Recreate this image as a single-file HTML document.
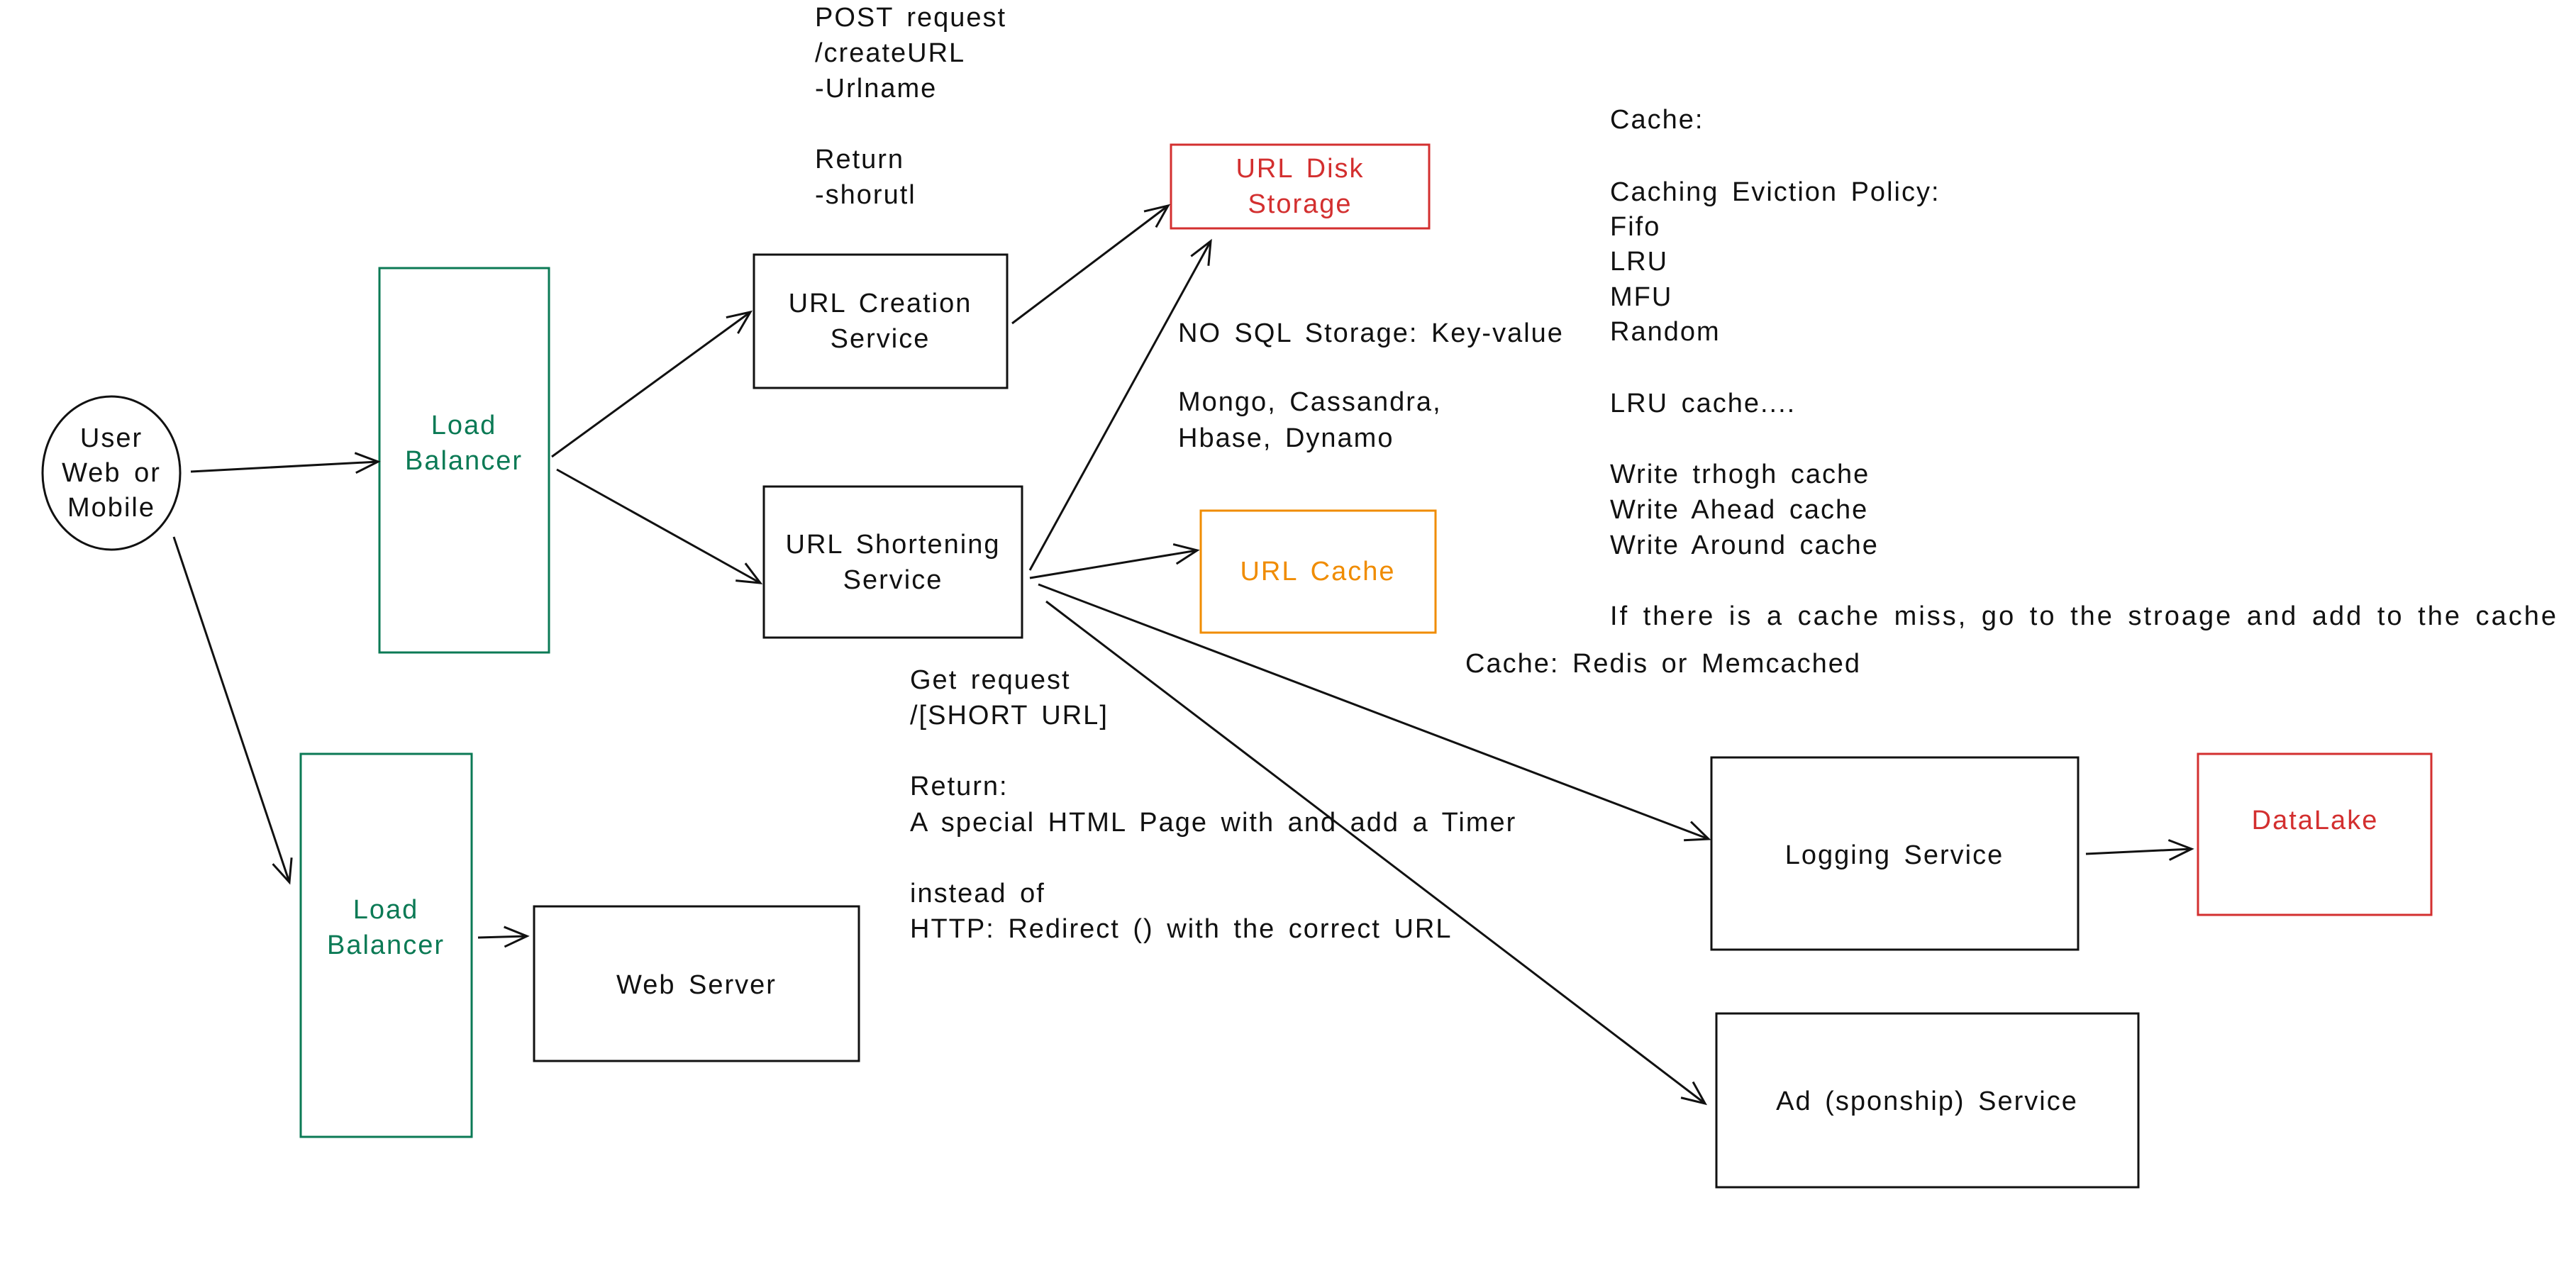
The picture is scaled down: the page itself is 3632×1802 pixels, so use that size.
<!DOCTYPE html>
<html><head><meta charset="utf-8"><style>
html,body{margin:0;padding:0;background:#fff;width:3632px;height:1802px;overflow:hidden}
svg{display:block}
text{font-family:"Liberation Sans",sans-serif;font-size:38px;letter-spacing:2px;word-spacing:6px;fill:#111}
</style></head><body>
<svg width="3632" height="1802" viewBox="0 0 3632 1802" xmlns="http://www.w3.org/2000/svg">
<defs>
<marker id="a" markerWidth="40" markerHeight="40" refX="34" refY="20" orient="auto" markerUnits="userSpaceOnUse">
<path d="M2,6 L34,20 L2,34" fill="none" stroke="#111" stroke-width="3"/>
</marker>
</defs>
<g fill="none" stroke="#111" stroke-width="3">
<ellipse cx="157" cy="667" rx="97" ry="108"/>
<rect x="1063" y="359" width="357" height="188"/>
<rect x="1077" y="686" width="364" height="213"/>
<rect x="753" y="1278" width="458" height="218"/>
<rect x="2413" y="1068" width="517" height="271"/>
<rect x="2420" y="1429" width="595" height="245"/>
<rect x="535" y="378" width="239" height="542" stroke="#0b7a55"/>
<rect x="424" y="1063" width="241" height="540" stroke="#0b7a55"/>
<rect x="1651" y="204" width="364" height="118" stroke="#d32f2f"/>
<rect x="3099" y="1063" width="329" height="227" stroke="#d32f2f"/>
<rect x="1693" y="720" width="331" height="172" stroke="#f08c00"/>
</g>
<g stroke="#111" stroke-width="3" marker-end="url(#a)">
<line x1="269" y1="665" x2="533" y2="651"/>
<line x1="245" y1="757" x2="408" y2="1244"/>
<line x1="778" y1="644" x2="1058" y2="440"/>
<line x1="785" y1="662" x2="1072" y2="822"/>
<line x1="1427" y1="456" x2="1647" y2="290"/>
<line x1="1452" y1="804" x2="1707" y2="340"/>
<line x1="1452" y1="815" x2="1688" y2="776"/>
<line x1="1464" y1="824" x2="2409" y2="1183"/>
<line x1="1475" y1="848" x2="2404" y2="1556"/>
<line x1="674" y1="1322" x2="743" y2="1320"/>
<line x1="2941" y1="1204" x2="3090" y2="1197"/>
</g>
<g text-anchor="middle" dominant-baseline="central">
<text x="157" y="618">User</text>
<text x="157" y="667">Web or</text>
<text x="157" y="716">Mobile</text>
<text x="654" y="600" style="fill:#0b7a55">Load</text>
<text x="654" y="650" style="fill:#0b7a55">Balancer</text>
<text x="544" y="1283" style="fill:#0b7a55">Load</text>
<text x="544" y="1333" style="fill:#0b7a55">Balancer</text>
<text x="1241" y="428">URL Creation</text>
<text x="1241" y="478">Service</text>
<text x="1259" y="768">URL Shortening</text>
<text x="1259" y="818">Service</text>
<text x="1833" y="238" style="fill:#d32f2f">URL Disk</text>
<text x="1833" y="288" style="fill:#d32f2f">Storage</text>
<text x="1858" y="806" style="fill:#f08c00">URL Cache</text>
<text x="982" y="1389">Web Server</text>
<text x="2671" y="1206">Logging Service</text>
<text x="3264" y="1157" style="fill:#d32f2f">DataLake</text>
<text x="2717" y="1553">Ad (sponship) Service</text>
</g>
<g dominant-baseline="central">
<text x="1149" y="25">POST request</text>
<text x="1149" y="75">/createURL</text>
<text x="1149" y="125">-Urlname</text>
<text x="1149" y="225">Return</text>
<text x="1149" y="275">-shorutl</text>
<text x="1661" y="470">NO SQL Storage: Key-value</text>
<text x="1661" y="567">Mongo, Cassandra,</text>
<text x="1661" y="618"> Hbase, Dynamo</text>
<text x="2270" y="169">Cache:</text>
<text x="2270" y="271">Caching Eviction Policy:</text>
<text x="2270" y="320">Fifo</text>
<text x="2270" y="369">LRU</text>
<text x="2270" y="419">MFU</text>
<text x="2270" y="468">Random</text>
<text x="2270" y="569">LRU cache....</text>
<text x="2270" y="669">Write trhogh cache</text>
<text x="2270" y="719">Write Ahead cache</text>
<text x="2270" y="769">Write Around cache</text>
<text x="2270" y="869" textLength="1336" lengthAdjust="spacing">If there is a cache miss, go to the stroage and add to the cache</text>
<text x="2066" y="936">Cache: Redis or Memcached</text>
<text x="1283" y="959">Get request</text>
<text x="1283" y="1009">/[SHORT URL]</text>
<text x="1283" y="1109">Return:</text>
<text x="1283" y="1160">A special HTML Page with and add a Timer</text>
<text x="1283" y="1260">instead of</text>
<text x="1283" y="1310">HTTP: Redirect () with the correct URL</text>
</g>
</svg>
</body></html>
